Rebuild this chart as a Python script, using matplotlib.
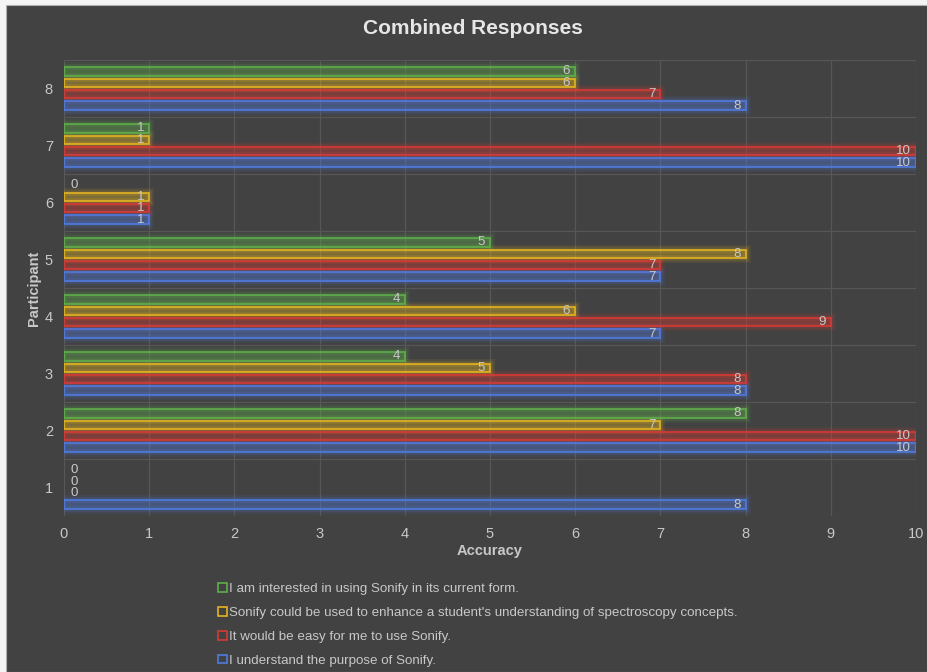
"""
Combined survey responses per participant, drawn as glowing grouped bars
"""
import numpy as np
import matplotlib
matplotlib.use('Agg')
import matplotlib.pyplot as plt
from matplotlib.patches import Rectangle

participants = [1, 2, 3, 4, 5, 6, 7, 8]
interested = [0, 8, 4, 4, 5, 0, 1, 6]
enhance = [0, 7, 5, 6, 8, 1, 1, 6]
easy = [0, 10, 8, 9, 7, 1, 10, 7]
understand = [8, 10, 8, 7, 7, 1, 10, 8]

labels = [
    "I am interested in using Sonify in its current form.",
    "Sonify could be used to enhance a student's understanding of spectroscopy concepts.",
    "It would be easy for me to use Sonify.",
    "I understand the purpose of Sonify.",
]

BG = '#424242'
TXT = '#c8c8c8'
GRID = '#575757'

plt.rcParams['font.family'] = ['Liberation Sans', 'DejaVu Sans']


def main():
    fig = plt.figure(figsize=(9.28, 6.72), dpi=100, facecolor='#f4f4f4')
    # dark panel, offset slightly from the top-left corner
    fig.patches.append(Rectangle((6 / 928, 0), 1, 667 / 672, transform=fig.transFigure,
                                 facecolor=BG, edgecolor='#b0b0b0', linewidth=0.8, zorder=-5))

    ax = fig.add_axes([64 / 928, 1 - 516 / 672, (916 - 64) / 928, (516 - 60) / 672])
    ax.set_facecolor(BG)

    y = np.array(participants, dtype=float)
    series = [
        (understand, -0.3, '#4f7be0'),
        (easy, -0.1, '#d63a34'),
        (enhance, 0.1, '#e3b420'),
        (interested, 0.3, '#5fae4b'),
    ]
    h = 0.15
    for values, off, col in series:
        vals = np.array(values)
        nz = vals > 0  # empty answers get only a label, no bar
        yb = (y + off)[nz]
        # soft glow around each bar
        for lw, a in [(7, 0.10), (4, 0.16)]:
            ax.barh(yb, vals[nz], height=h, facecolor='none', edgecolor=col,
                    linewidth=lw, alpha=a, zorder=2)
        ax.barh(yb, vals[nz], height=h, facecolor=col, alpha=0.3,
                edgecolor='none', zorder=3)
        ax.barh(yb, vals[nz], height=h, facecolor='none', edgecolor=col,
                linewidth=1.2, zorder=4)
        for yy, v in zip(y + off, values):
            if v == 0:
                ax.text(0.08, yy, '0', ha='left', va='center', color=TXT,
                        fontsize=9.6, zorder=5)
            else:
                ax.text(v - 0.06, yy, str(v), ha='right', va='center', color=TXT,
                        fontsize=9.6, zorder=5)

    ax.set_xlim(0, 10)
    ax.set_ylim(0.5, 8.5)
    ax.set_xticks(range(11))
    ax.set_yticks(participants)
    ax.set_yticks(np.arange(0.5, 9, 1), minor=True)
    ax.grid(axis='x', color=GRID, linewidth=0.9, zorder=1)
    ax.grid(axis='y', which='minor', color=GRID, linewidth=0.9, zorder=1)
    ax.grid(axis='y', which='major', visible=False)
    ax.tick_params(which='both', length=0, colors=TXT, labelsize=10.5, pad=8)
    for s in ax.spines.values():
        s.set_visible(False)

    ax.set_xlabel('Accuracy', color=TXT, fontsize=10.5, fontweight='bold', labelpad=2)
    ax.set_ylabel('Participant', color=TXT, fontsize=10.5, fontweight='bold', labelpad=3)
    fig.text(0.51, 1 - 29 / 672, 'Combined Responses', ha='center', va='center',
             color='#e6e6e6', fontsize=15, fontweight='bold')

    colors = ['#5fae4b', '#e3b420', '#d63a34', '#4f7be0']
    handles = [Rectangle((0, 0), 1, 1, facecolor='none', edgecolor=c, linewidth=1.2)
               for c in colors]
    fig.legend(handles, labels, loc='upper left', bbox_to_anchor=(213 / 928, 1 - 578 / 672),
               frameon=False, fontsize=9.6, labelcolor=TXT, handlelength=0.65,
               handleheight=0.65, handletextpad=0.12, labelspacing=0.87,
               borderaxespad=0)

    fig.savefig('out.png', dpi=100, facecolor=fig.get_facecolor())
    plt.close(fig)


if __name__ == "__main__":
    main()
